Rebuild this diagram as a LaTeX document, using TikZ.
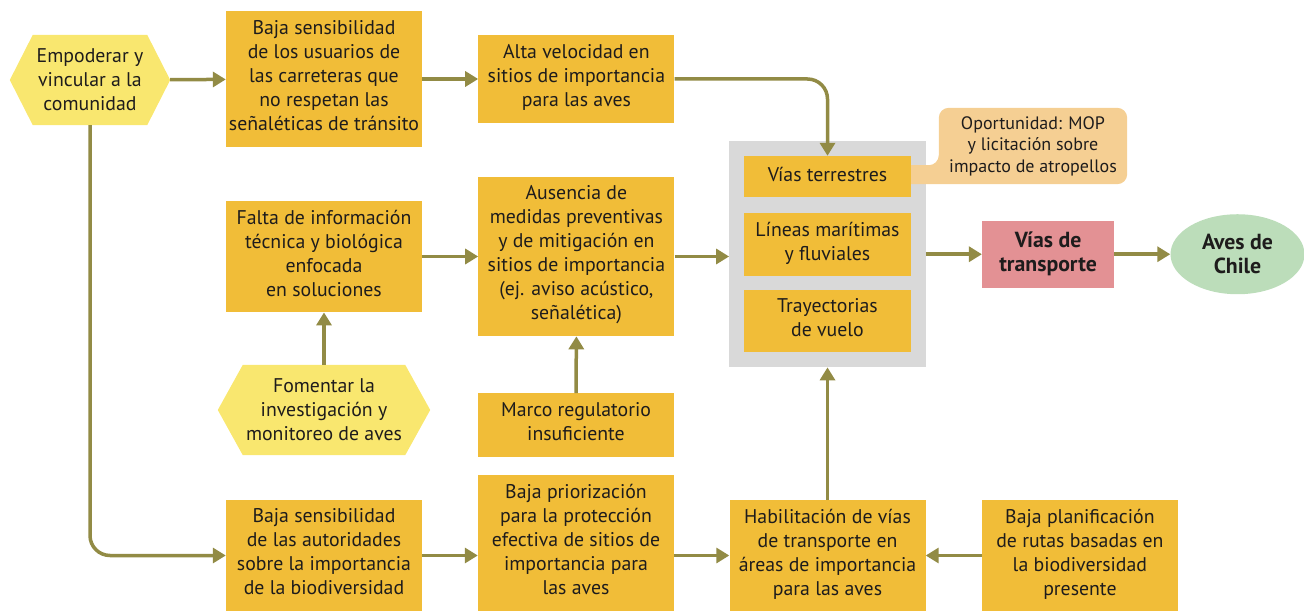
\documentclass[tikz,border=0pt]{standalone}
\usepackage{fontspec}
\setmainfont{PT Sans}
\usepackage{xcolor}
\usepackage{tikz}
\usetikzlibrary{calc, positioning, fit, arrows.meta, shapes}
\pgfdeclarelayer{bg}
\pgfsetlayers{bg,main}

\definecolor{boxyellow}{RGB}{241,189,56}
\definecolor{hexyellow}{RGB}{249,231,111}
\definecolor{groupgray}{RGB}{217,217,217}
\definecolor{arrowolive}{RGB}{146,139,69}
\definecolor{calloutorange}{RGB}{245,207,147}
\definecolor{pinkred}{RGB}{227,145,148}
\definecolor{mintgreen}{RGB}{188,221,186}
\definecolor{textdark}{RGB}{30,28,28}

% hexagon behind a node: name, depth of the points
\newcommand{\hexfill}[2]{%
  \fill[hexyellow] ($(#1.north west)+(#2,0)$) -- ($(#1.north east)-(#2,0)$) -- (#1.east)
    -- ($(#1.south east)-(#2,0)$) -- ($(#1.south west)+(#2,0)$) -- (#1.west) -- cycle;}

\begin{document}
\begin{tikzpicture}
  [x=1pt, y=-1pt, node distance=56pt,
   box/.style={rectangle, fill=boxyellow, text=textdark, align=center,
     minimum width=196pt, inner xsep=1pt, inner ysep=9pt,
     font=\fontsize{19.8}{24}\selectfont,
     execute at begin node=\strut, execute at end node=\strut},
   inbox/.style={box, minimum width=167pt, inner ysep=8.5pt},
   hexa/.style={rectangle, text=textdark, align=center, inner sep=0pt,
     minimum height=90pt, font=\fontsize{19.8}{24}\selectfont},
   arr/.style={draw=arrowolive, line width=3.5pt, -{Triangle[width=15pt,length=13pt]}}]
  \useasboundingbox (0,0) rectangle (1304,612);

  % nodes %
  \node[hexa, minimum width=160pt] (hx1) at (90,80) {Empoderar y\\vincular a la\\comunidad};
  \node[box] (b1) at (324,79) {Baja sensibilidad\\de los usuarios de\\las carreteras que\\no respetan las\\señaléticas de tránsito};
  \node[box, right=of b1] (b2) {Alta velocidad en\\sitios de importancia\\para las aves};

  \node[box] (b3) at (324,256.5) {Falta de información\\técnica y biológica\\enfocada\\en soluciones};
  \node[box, right=of b3] (b4) {Ausencia de\\medidas preventivas\\y de mitigación en\\sitios de importancia\\(ej. aviso acústico,\\señalética)};

  \node[hexa, minimum width=212pt] (hx2) at (324,410) {Fomentar la\\investigación y\\monitoreo de aves};
  \node[box] (b5) at (576,425) {Marco regulatorio\\insuficiente};

  \node[box] (b6) at (324,555.5) {Baja sensibilidad\\de las autoridades\\sobre la importancia\\de la biodiversidad};
  \node[box] (b7) at (576,543) {Baja priorización\\para la protección\\efectiva de sitios de\\importancia para\\las aves};
  \node[box] (b8) at (827.5,555.5) {Habilitación de vías\\de transporte en\\áreas de importancia\\para las aves};
  \node[box, right=of b8] (b9) {Baja planificación\\de rutas basadas en\\la biodiversidad\\presente};

  \node[inbox] (vt) at (827.5,176.5) {Vías terrestres};
  \node[inbox, below=16pt of vt] (lm) {Líneas marítimas\\y fluviales};
  \node[inbox, below=14pt of lm] (tv) {Trayectorias\\de vuelo};

  \node[text=textdark, align=center, minimum width=188pt, minimum height=76pt, inner sep=0pt,
    font=\fontsize{18}{21.5}\selectfont] (op) at (1033,146) {Oportunidad: MOP\\y licitación sobre\\impacto de atropellos};

  \begin{pgfonlayer}{bg}
    \node[fit=(vt)(lm)(tv), inner sep=14.5pt, fill=groupgray] (grp) {};
    \coordinate (tl) at ($(op.south west)+(0,-19)$);
    \fill[calloutorange] (vt.east |- op.south) -- (vt.east |- tl) -- ($(tl)+(-14,0)$)
      [rounded corners=10pt] -- (tl) -- (op.north west) -- (op.north east) -- (op.south east)
      -- (op.south) [sharp corners] -- cycle;
    \hexfill{hx1}{23}
    \hexfill{hx2}{25}
  \end{pgfonlayer}

  \node[rectangle, fill=pinkred, text=textdark, align=center, minimum width=132pt, minimum height=67pt,
    font=\bfseries\fontsize{21.8}{24}\selectfont, right=of grp] (vd) {Vías de\\transporte};
  \node[ellipse, fill=mintgreen, text=textdark, align=center, minimum width=134pt, minimum height=80pt,
    inner sep=0pt, font=\bfseries\fontsize{21.8}{24}\selectfont, right=of vd] (aves) {Aves de\\Chile};

  % edges %
  \draw[arr] (hx1) -- (b1);
  \draw[arr] (b1) -- (b2);
  \draw[arr, rounded corners=20pt] (b2.east) -| (vt.north);
  \draw[arr, rounded corners=20pt] (hx1.south) |- (b6.west);
  \draw[arr] (b3) -- (b4);
  \draw[arr] (hx2.north) -- (b3.south);
  \draw[arr] (b5.north) -- (b4.south);
  \draw[arr] (b4.east) -- (b4.east -| grp.west);
  \draw[arr] (grp.east |- vd.west) -- (vd.west);
  \draw[arr] (vd) -- (aves);
  \draw[arr] (b6.east) -- (b6.east -| b7.west);
  \draw[arr] (b7.east |- b8.west) -- (b8.west);
  \draw[arr] (b9) -- (b8);
  \draw[arr] (b8.north) -- (grp.south);
\end{tikzpicture}
\end{document}
